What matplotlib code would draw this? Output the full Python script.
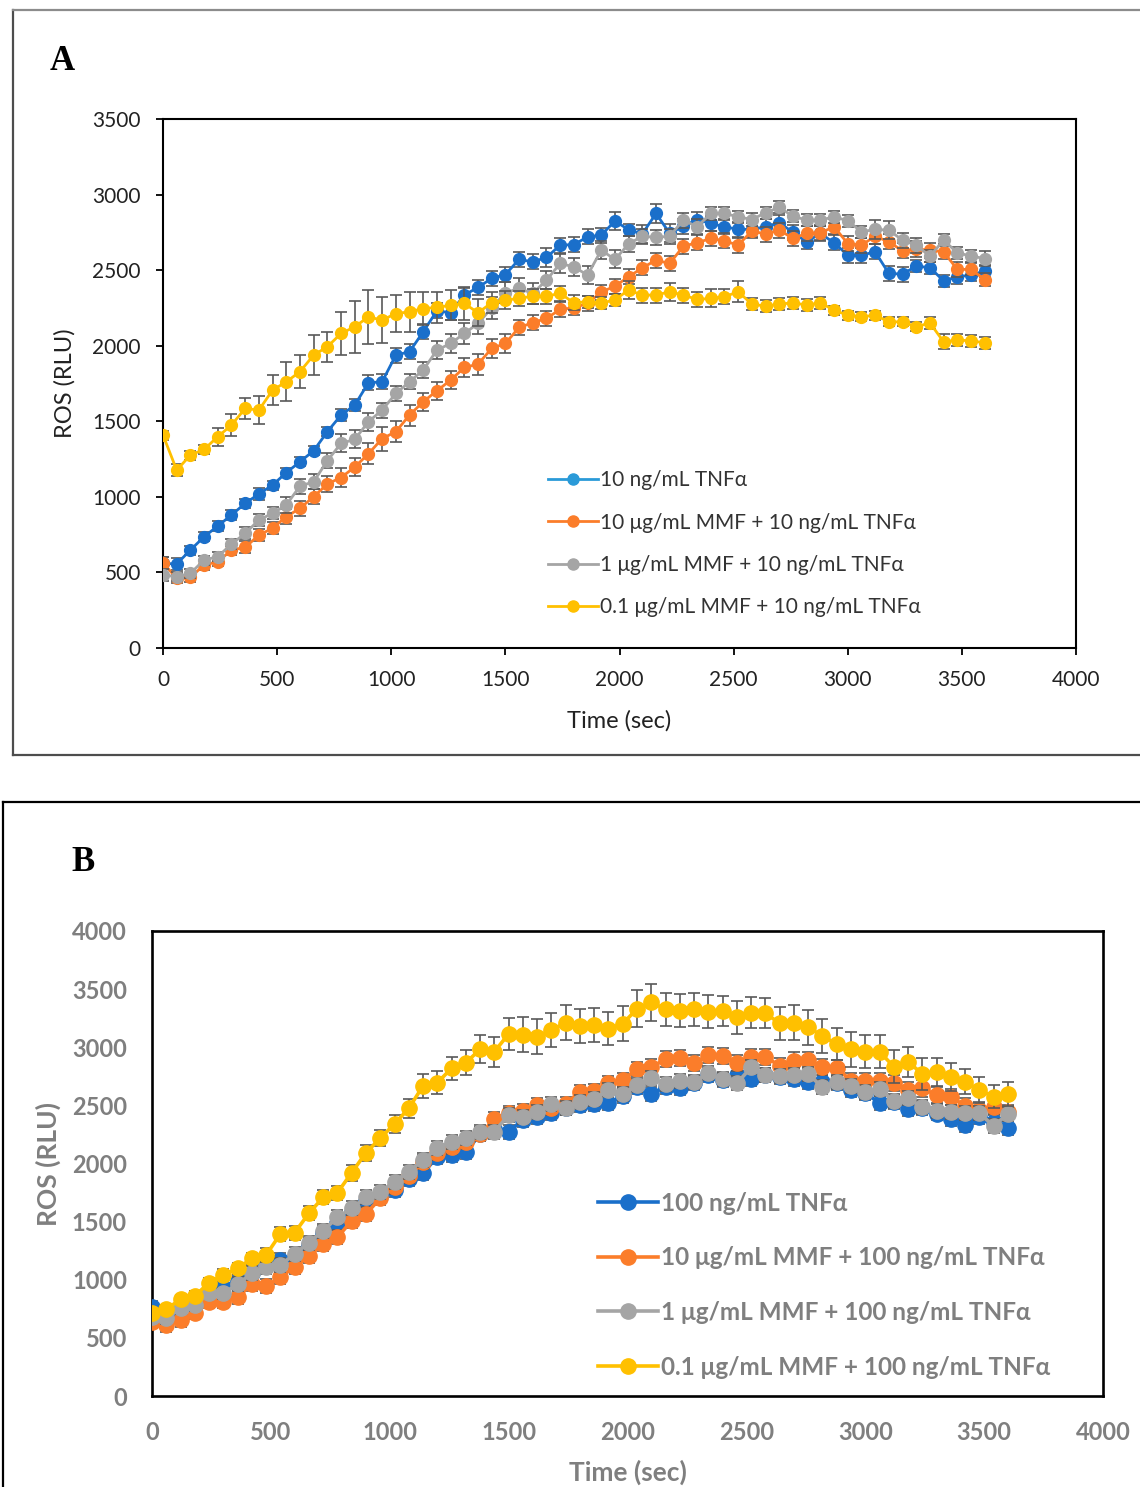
import matplotlib
matplotlib.use("Agg")
import matplotlib.pyplot as plt
from matplotlib.lines import Line2D

# ---------------- data ----------------
time_sec = list(range(0, 3601, 60))

labels_a = ["10 ng/mL TNFα", "10 μg/mL MMF + 10 ng/mL TNFα",
            "1 μg/mL MMF + 10 ng/mL TNFα", "0.1 μg/mL MMF + 10 ng/mL TNFα"]
labels_b = ["100 ng/mL TNFα", "10 μg/mL MMF + 100 ng/mL TNFα",
            "1 μg/mL MMF + 100 ng/mL TNFα", "0.1 μg/mL MMF + 100 ng/mL TNFα"]

a_blue = [560, 556, 648, 736, 807, 880, 957, 1019, 1078, 1160,
          1232, 1305, 1431, 1541, 1607, 1755, 1761, 1938, 1960, 2092,
          2231, 2218, 2335, 2386, 2445, 2471, 2571, 2555, 2584, 2665,
          2669, 2720, 2731, 2825, 2767, 2740, 2875, 2743, 2790, 2835,
          2809, 2787, 2770, 2770, 2787, 2814, 2750, 2687, 2743, 2681,
          2599, 2599, 2621, 2478, 2474, 2526, 2517, 2429, 2456, 2467,
          2495]
a_orange = [564, 461, 468, 549, 571, 648, 666, 747, 792, 869,
            924, 1001, 1085, 1128, 1197, 1285, 1385, 1431, 1541, 1629,
            1702, 1772, 1856, 1878, 1982, 2015, 2121, 2152, 2181, 2240,
            2251, 2280, 2355, 2394, 2456, 2515, 2566, 2544, 2659, 2681,
            2710, 2694, 2665, 2760, 2738, 2765, 2710, 2743, 2747, 2787,
            2676, 2665, 2725, 2687, 2628, 2640, 2632, 2621, 2505, 2505,
            2438]
a_gray = [483, 472, 494, 582, 604, 688, 758, 847, 891, 946,
          1071, 1100, 1239, 1354, 1380, 1497, 1574, 1684, 1761, 1839,
          1971, 2015, 2081, 2147, 2250, 2350, 2379, 2346, 2434, 2544,
          2522, 2467, 2632, 2571, 2673, 2725, 2716, 2725, 2831, 2787,
          2875, 2875, 2853, 2835, 2880, 2915, 2857, 2831, 2831, 2853,
          2827, 2754, 2769, 2765, 2698, 2665, 2593, 2698, 2615, 2593,
          2577]
a_yellow = [1409, 1177, 1276, 1314, 1398, 1475, 1585, 1574, 1706, 1761,
            1828, 1938, 1993, 2081, 2125, 2191, 2169, 2213, 2224, 2246,
            2253, 2268, 2280, 2218, 2284, 2302, 2313, 2328, 2328, 2346,
            2284, 2291, 2280, 2305, 2368, 2335, 2335, 2357, 2335, 2306,
            2313, 2324, 2357, 2275, 2262, 2275, 2284, 2269, 2284, 2235,
            2202, 2191, 2202, 2158, 2158, 2125, 2151, 2026, 2037, 2033,
            2019]

a_blue_err = [40, 40, 30, 30, 30, 30, 30, 40, 30, 30,
              30, 30, 30, 40, 40, 50, 50, 50, 50, 50,
              50, 50, 50, 50, 50, 50, 50, 50, 60, 50,
              50, 50, 50, 60, 40, 60, 60, 60, 50, 50,
              50, 50, 50, 50, 50, 50, 50, 50, 50, 50,
              50, 50, 50, 50, 50, 40, 40, 40, 50, 40,
              40]
a_orange_err = [40, 30, 30, 30, 30, 30, 40, 40, 40, 50,
                50, 50, 50, 60, 60, 70, 80, 70, 70, 60,
                60, 60, 60, 70, 60, 60, 50, 50, 50, 50,
                50, 50, 50, 50, 50, 50, 50, 50, 50, 50,
                50, 50, 50, 50, 50, 50, 50, 50, 50, 50,
                50, 50, 50, 50, 50, 50, 50, 50, 50, 40,
                40]
a_gray_err = [40, 30, 30, 30, 30, 30, 40, 40, 40, 50,
              50, 50, 50, 60, 60, 60, 50, 50, 50, 50,
              60, 60, 70, 70, 70, 70, 70, 70, 60, 60,
              60, 60, 60, 60, 50, 50, 50, 50, 50, 50,
              40, 40, 40, 40, 40, 40, 40, 40, 40, 40,
              40, 40, 60, 60, 50, 50, 40, 40, 40, 40,
              50]
a_yellow_err = [30, 40, 30, 30, 60, 70, 70, 90, 100, 130,
                110, 130, 100, 140, 170, 180, 150, 120, 130, 110,
                100, 100, 110, 90, 70, 60, 50, 50, 50, 50,
                50, 40, 40, 40, 60, 50, 50, 60, 50, 50,
                60, 50, 70, 40, 40, 40, 40, 40, 40, 30,
                30, 30, 30, 30, 30, 30, 40, 50, 40, 40,
                40]

b_blue = [768, 690, 740, 790, 900, 940, 990, 1060, 1130, 1170,
          1200, 1300, 1400, 1485, 1580, 1680, 1720, 1772, 1864, 1916,
          2059, 2073, 2102, 2250, 2300, 2274, 2374, 2403, 2432, 2480,
          2500, 2512, 2518, 2580, 2655, 2600, 2660, 2646, 2690, 2762,
          2719, 2762, 2724, 2760, 2740, 2727, 2704, 2700, 2690, 2632,
          2604, 2523, 2530, 2466, 2480, 2430, 2380, 2331, 2403, 2360,
          2303]
b_orange = [639, 611, 654, 711, 811, 811, 849, 963, 946, 1021,
            1112, 1204, 1308, 1365, 1508, 1566, 1701, 1800, 1893, 2010,
            2088, 2145, 2188, 2255, 2380, 2437, 2455, 2503, 2475, 2512,
            2618, 2627, 2690, 2720, 2810, 2830, 2896, 2905, 2862, 2933,
            2925, 2867, 2913, 2919, 2839, 2885, 2890, 2830, 2822, 2712,
            2712, 2712, 2695, 2632, 2646, 2589, 2575, 2495, 2460, 2489,
            2446]
b_gray = [682, 668, 754, 783, 883, 883, 963, 1055, 1107, 1127,
          1221, 1319, 1422, 1537, 1614, 1709, 1758, 1843, 1930, 2030,
          2131, 2188, 2217, 2274, 2274, 2417, 2397, 2446, 2512, 2475,
          2529, 2558, 2632, 2598, 2675, 2733, 2684, 2712, 2704, 2776,
          2724, 2690, 2827, 2762, 2753, 2762, 2770, 2655, 2704, 2667,
          2618, 2638, 2541, 2561, 2484, 2455, 2446, 2432, 2432, 2323,
          2426]
b_yellow = [711, 746, 832, 860, 975, 1041, 1098, 1184, 1213, 1394,
            1405, 1572, 1709, 1749, 1921, 2093, 2217, 2340, 2475, 2667,
            2695, 2819, 2867, 2982, 2962, 3114, 3106, 3091, 3148, 3211,
            3183, 3191, 3160, 3203, 3330, 3388, 3326, 3315, 3326, 3306,
            3315, 3258, 3298, 3292, 3206, 3211, 3172, 3097, 3028, 2982,
            2962, 2962, 2833, 2876, 2770, 2790, 2747, 2704, 2632, 2575,
            2598]

b_blue_err = [50, 50, 50, 50, 50, 50, 50, 60, 60, 60,
              60, 60, 60, 60, 60, 60, 60, 60, 60, 60,
              60, 60, 60, 60, 60, 60, 60, 60, 60, 60,
              60, 60, 60, 60, 60, 60, 60, 60, 60, 60,
              60, 60, 60, 60, 60, 60, 60, 60, 60, 60,
              60, 60, 60, 60, 60, 60, 60, 60, 60, 60,
              60]
b_orange_err = [50, 60, 60, 50, 50, 50, 60, 60, 60, 60,
                60, 60, 60, 60, 60, 60, 60, 60, 60, 60,
                60, 60, 60, 60, 60, 60, 60, 60, 60, 60,
                60, 60, 60, 60, 60, 70, 70, 70, 70, 70,
                70, 70, 70, 70, 70, 70, 70, 70, 70, 70,
                70, 70, 70, 70, 70, 70, 70, 70, 70, 60,
                60]
b_gray_err = [50, 50, 50, 50, 50, 50, 60, 60, 60, 60,
              60, 60, 60, 60, 60, 60, 60, 60, 60, 60,
              60, 60, 60, 60, 60, 60, 60, 60, 60, 60,
              60, 60, 60, 60, 60, 60, 60, 60, 60, 60,
              60, 60, 60, 60, 60, 60, 60, 60, 60, 60,
              60, 60, 60, 60, 60, 60, 60, 60, 60, 60,
              60]
b_yellow_err = [40, 40, 40, 40, 40, 50, 50, 50, 60, 60,
                60, 60, 60, 60, 70, 70, 70, 80, 80, 100,
                100, 100, 110, 120, 130, 140, 150, 150, 150, 150,
                150, 150, 140, 150, 160, 160, 140, 140, 140, 140,
                130, 140, 130, 130, 140, 150, 150, 150, 140, 150,
                140, 140, 140, 130, 140, 120, 120, 110, 110, 100,
                100]

x_ticks = [0, 500, 1000, 1500, 2000, 2500, 3000, 3500, 4000]
a_y_ticks = [0, 500, 1000, 1500, 2000, 2500, 3000, 3500]
b_y_ticks = [0, 500, 1000, 1500, 2000, 2500, 3000, 3500, 4000]

colors = ["#1a6fca", "#fb7d2a", "#a5a5a5", "#ffc000"]
legend_colors_a = ["#2a9ad8", "#fb7d2a", "#a5a5a5", "#ffc000"]
ERR_C = "#595959"
FONT = ["Lato", "DejaVu Sans"]

W, H = 1140, 1487
fig = plt.figure(figsize=(W / 100, H / 100), dpi=100)


def fx(px):
    return px / W


def fy(py):
    return 1 - py / H


# panel frames
fig.add_artist(Line2D([fx(13), fx(13)], [fy(10), fy(755)], transform=fig.transFigure, color="#4d4d4d", lw=1.6))
fig.add_artist(Line2D([fx(13), 1.02], [fy(10), fy(10)], transform=fig.transFigure, color="#8c8c8c", lw=1.6))
fig.add_artist(Line2D([fx(13), 1.02], [fy(755), fy(755)], transform=fig.transFigure, color="#4d4d4d", lw=1.6))
fig.add_artist(Line2D([fx(3), fx(3)], [fy(802), -0.02], transform=fig.transFigure, color="black", lw=1.6))
fig.add_artist(Line2D([fx(3), 1.02], [fy(802), fy(802)], transform=fig.transFigure, color="black", lw=1.6))

fig.text(fx(62), fy(61), "A", family="Liberation Serif", weight="bold", fontsize=25, ha="center", va="center")
fig.text(fx(83), fy(863), "B", family="Liberation Serif", weight="bold", fontsize=25, ha="center", va="center")


def draw(ax, series, errs, ms, lw):
    for i, (vals, err) in enumerate(zip(series, errs)):
        z = 3 + i
        ax.errorbar(time_sec, vals, yerr=err, fmt="none", ecolor=ERR_C, elinewidth=1.2,
                    capsize=4, capthick=1.2, zorder=z)
        ax.plot(time_sec, vals, "-o", color=colors[i], lw=lw, ms=ms, zorder=z + 0.5)


# ---------- panel A ----------
axA = fig.add_axes([fx(163), fy(648), fx(1076) - fx(163), fy(119) - fy(648)])
draw(axA, [a_blue, a_orange, a_gray, a_yellow],
     [a_blue_err, a_orange_err, a_gray_err, a_yellow_err], ms=8.5, lw=2.0)
axA.set_xlim(0, 4000)
axA.set_ylim(0, 3500)
axA.set_xticks(x_ticks)
axA.set_yticks(a_y_ticks)
for s in axA.spines.values():
    s.set_linewidth(1.5)
    s.set_color("black")
axA.tick_params(axis="both", direction="out", length=5, width=1.3, colors="black",
                labelcolor="#222222", labelsize=15)
axA.tick_params(axis="y", pad=11)
axA.tick_params(axis="x", pad=11)
for lab in axA.get_xticklabels() + axA.get_yticklabels():
    lab.set_family(FONT)
axA.set_xlabel("Time (sec)", family=FONT, fontsize=17, color="#222222", labelpad=14)
axA.set_ylabel("ROS (RLU)", family=FONT, fontsize=17, color="#222222", labelpad=12)

handles_a = [Line2D([], [], color=c, marker="o", lw=2.0, ms=8) for c in legend_colors_a]
fig.legend(handles_a, labels_a, loc="upper left", bbox_to_anchor=(fx(540), fy(462)),
           frameon=False, prop={"family": FONT, "size": 15}, labelcolor="#333333",
           handlelength=2.4, handletextpad=0.1, labelspacing=1.07, borderaxespad=0)

# ---------- panel B ----------
axB = fig.add_axes([fx(152), fy(1396), fx(1103) - fx(152), fy(931) - fy(1396)])
draw(axB, [b_blue, b_orange, b_gray, b_yellow],
     [b_blue_err, b_orange_err, b_gray_err, b_yellow_err], ms=11, lw=2.6)
axB.set_xlim(0, 4000)
axB.set_ylim(0, 4000)
axB.set_xticks(x_ticks)
axB.set_yticks(b_y_ticks)
for s in axB.spines.values():
    s.set_linewidth(1.9)
    s.set_color("black")
axB.tick_params(axis="both", length=0, labelcolor="#7f7f7f", labelsize=17)
axB.tick_params(axis="y", pad=18)
axB.tick_params(axis="x", pad=18)
for lab in axB.get_xticklabels() + axB.get_yticklabels():
    lab.set_family(FONT)
    lab.set_weight("bold")
axB.set_xlabel("Time (sec)", family=FONT, fontsize=19, weight="bold", color="#7f7f7f", labelpad=11)
axB.set_ylabel("ROS (RLU)", family=FONT, fontsize=19, weight="bold", color="#7f7f7f", labelpad=8)

handles_b = [Line2D([], [], color=c, marker="o", lw=2.6, ms=11) for c in colors]
fig.legend(handles_b, labels_b, loc="upper left", bbox_to_anchor=(fx(588), fy(1182)),
           frameon=False, prop={"family": FONT, "size": 17.5, "weight": "bold"}, labelcolor="#7f7f7f",
           handlelength=2.5, handletextpad=0.1, labelspacing=1.3, borderaxespad=0)

fig.savefig("out.png", dpi=100)
